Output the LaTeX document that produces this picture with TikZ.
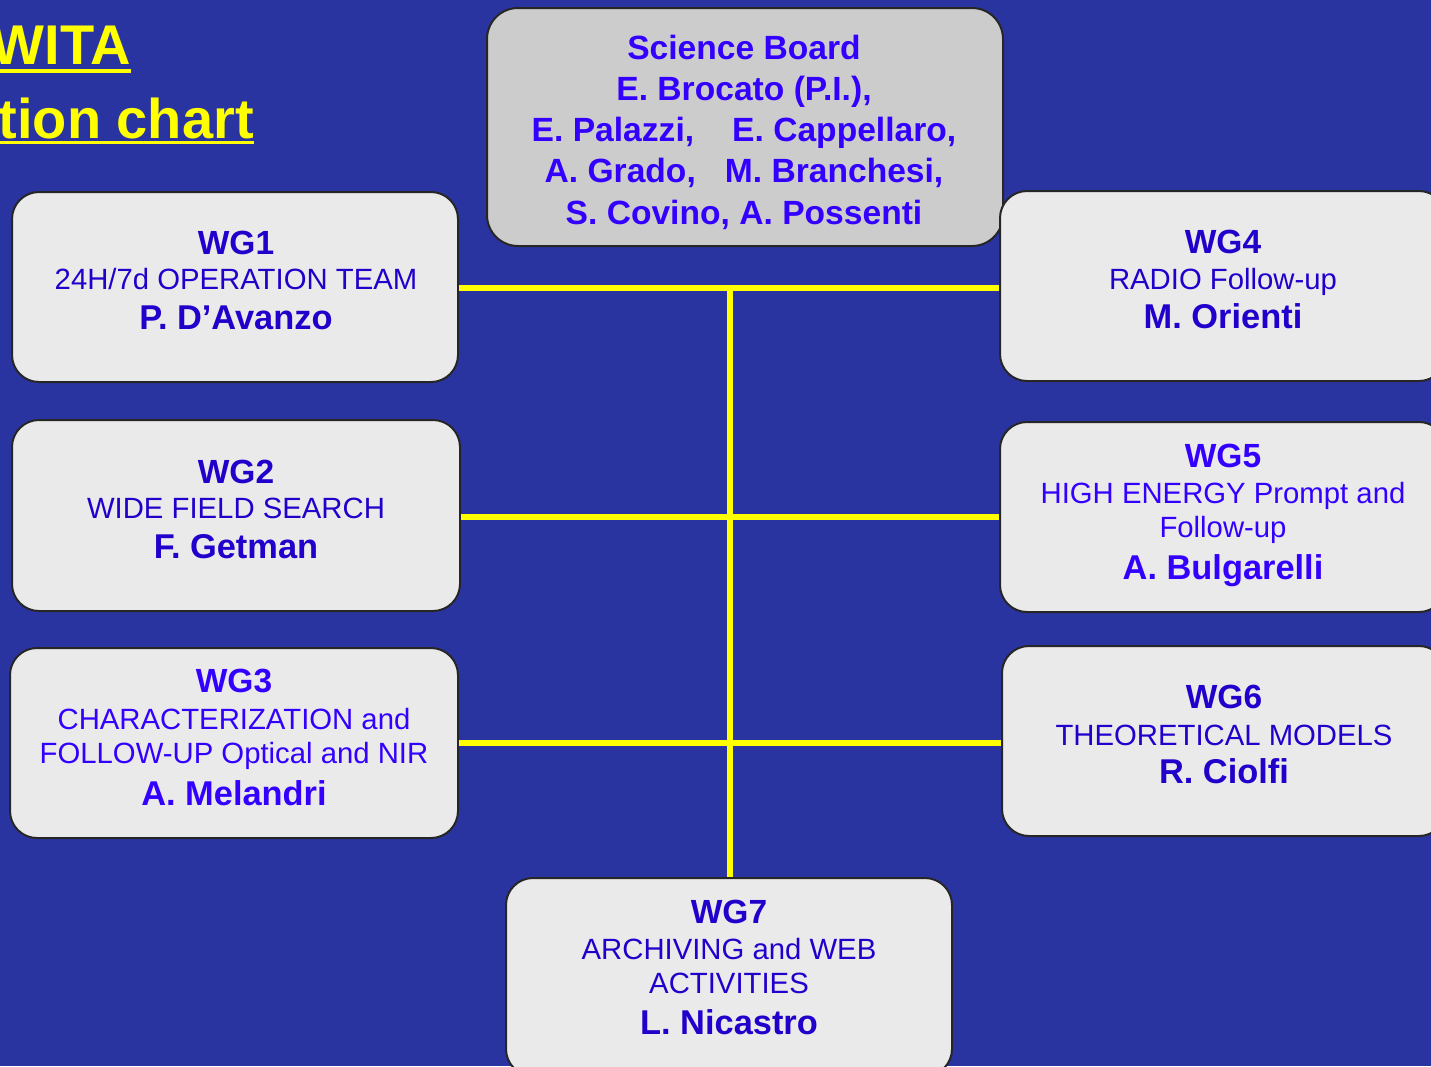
\documentclass[tikz,border=0pt]{standalone}
\usepackage{fontspec}
\setmainfont{Liberation Sans}
\definecolor{bgblue}{RGB}{42,52,160}
\definecolor{txtdark}{RGB}{34,0,204}
\definecolor{txtbright}{RGB}{51,0,255}
\definecolor{boxfill}{RGB}{234,234,234}
\definecolor{sbfill}{RGB}{204,204,204}
\definecolor{ttlyellow}{RGB}{255,255,0}
\newcommand{\wgHead}[1]{{\bfseries\fontsize{33.5}{35}\selectfont #1}}
\newcommand{\wgName}[1]{{\bfseries\fontsize{34.4}{35}\selectfont #1}}
\begin{document}
\begin{tikzpicture}[x=1pt,y=-1pt,
  wgbox/.style={draw=black!85, line width=2pt, fill=boxfill, rounded corners=27pt, inner sep=0pt, minimum width=#1},
  wgtext/.style={anchor=base, align=center, inner sep=0pt, font=\fontsize{29.3}{35}\selectfont},
  conn/.style={draw=ttlyellow, line width=6pt},
  ttl/.style={anchor=base east, inner sep=0pt, text=ttlyellow, font=\bfseries\fontsize{56}{60}\selectfont}]
\useasboundingbox (0,0) rectangle (1431,1066);
\clip (0,0) rectangle (1431,1066);
\fill[bgblue] (0,0) rectangle (1431,1066);

% title
\node[ttl] (title1) at (131,64) {WITA};
\node[ttl] (title2) at (254,138) {tion chart};
\draw[ttlyellow, line width=4pt] (0,70.5) -- (131,70.5);
\draw[ttlyellow, line width=3.5pt] (0,142.5) -- (254,142.5);

% boxes
\node[wgbox=516pt, minimum height=238pt, fill=sbfill, rounded corners=31pt] (sb) at (745,127) {};
\node[wgbox=446pt, minimum height=190pt] (wg1) at (235,287) {};
\node[wgbox=448pt, minimum height=191pt] (wg2) at (236,515.5) {};
\node[wgbox=448pt, minimum height=190pt] (wg3) at (234,743) {};
\node[wgbox=446pt, minimum height=190pt] (wg4) at (1223,286) {};
\node[wgbox=446pt, minimum height=190pt] (wg5) at (1223,517) {};
\node[wgbox=444pt, minimum height=190pt] (wg6) at (1224,741) {};
\node[wgbox=446pt, minimum height=198pt] (wg7) at (729,977) {};

% connectors
\coordinate (hub) at (730,288);
\draw[conn] (wg1.east |- hub) -- (wg4.west |- hub);
\draw[conn] (wg2.east |- 0,517) -- (wg5.west |- 0,517);
\draw[conn] (wg3.east |- 0,743) -- (wg6.west |- 0,743);
\draw[conn] (hub) -- (hub |- wg7.north);

% texts (anchor = baseline of last line)
\node[wgtext, text=txtbright, font=\bfseries\fontsize{33.6}{41.2}\selectfont] (sbt) at (744,224)
  {Science Board\\E. Brocato (P.I.),\\E. Palazzi,\hspace{38pt}E. Cappellaro,\\A. Grado,\hspace{29pt}M. Branchesi,\\S. Covino, A. Possenti};
\node[wgtext, text=txtdark] (wg1t) at (236,329)
  {\wgHead{WG1}\\[0pt]24H/7d OPERATION TEAM\\[5pt]\wgName{P. D’Avanzo}};
\node[wgtext, text=txtdark] (wg2t) at (236,558)
  {\wgHead{WG2}\\[0pt]WIDE FIELD SEARCH\\[5pt]\wgName{F. Getman}};
\node[wgtext, text=txtbright] (wg3t) at (234,805)
  {\wgHead{WG3}\\[2pt]CHARACTERIZATION and\\[-1pt]FOLLOW-UP Optical and NIR\\[7pt]\wgName{A. Melandri}};
\node[wgtext, text=txtdark] (wg4t) at (1223,328)
  {\wgHead{WG4}\\[1pt]RADIO Follow-up\\[4pt]\wgName{M. Orienti}};
\node[wgtext, text=txtbright] (wg5t) at (1223,579)
  {\wgHead{WG5}\\[1pt]HIGH ENERGY Prompt and\\[-1pt]Follow-up\\[7pt]\wgName{A. Bulgarelli}};
\node[wgtext, text=txtdark] (wg6t) at (1224,783)
  {\wgHead{WG6}\\[2pt]THEORETICAL MODELS\\[3pt]\wgName{R. Ciolfi}};
\node[wgtext, text=txtdark] (wg7t) at (729,1034)
  {\wgHead{WG7}\\[1pt]ARCHIVING and WEB\\[-1pt]ACTIVITIES\\[6pt]\wgName{L. Nicastro}};
\end{tikzpicture}
\end{document}
